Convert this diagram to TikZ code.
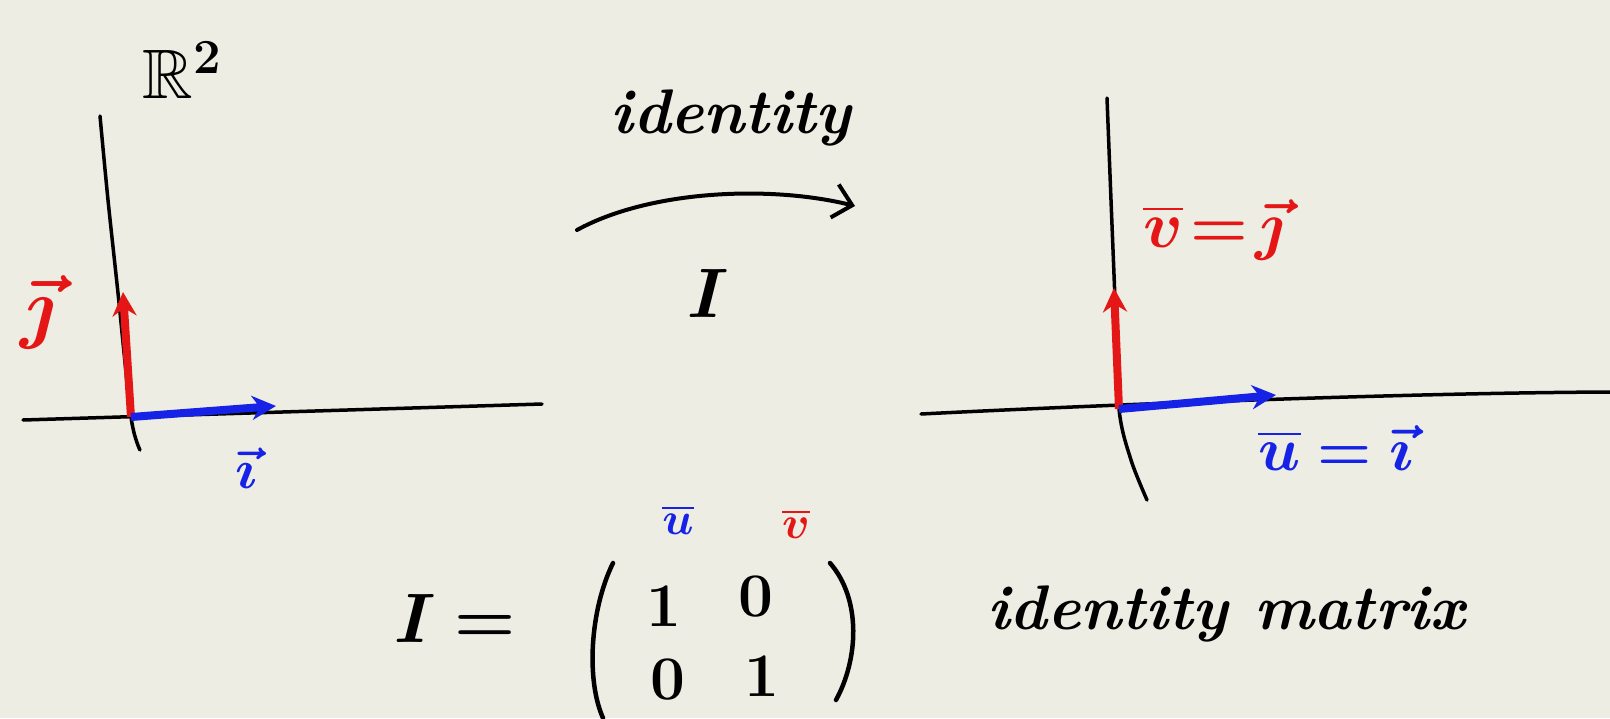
\RequirePackage{fix-cm}
\documentclass[tikz,border=0pt]{standalone}
\usepackage{amsmath,amssymb,bm}
\usetikzlibrary{arrows.meta}
\definecolor{paper}{RGB}{237,237,227}
\definecolor{pred}{RGB}{228,22,22}
\definecolor{pblue}{RGB}{22,34,230}
\tikzset{
  axis/.style={line width=3.5pt, black, line cap=round},
  vecred/.style={line width=8pt, pred, -{Stealth[length=24pt,width=24pt]}},
  vecblue/.style={line width=8pt, pblue, -{Stealth[length=24pt,width=24pt]}},
  maparrow/.style={line width=4pt, black, line cap=round, -{Straight Barb[length=18pt,width=34pt,line width=4pt]}},
  paren/.style={line width=4.5pt, black, line cap=round},
  lbl/.style={inner sep=0pt, font=\fontsize{56}{64}\selectfont\bfseries},
  big/.style={inner sep=0pt, font=\fontsize{70}{80}\selectfont\bfseries},
  word/.style={inner sep=0pt, font=\fontsize{63}{72}\selectfont\bfseries\itshape},
  entry/.style={inner sep=0pt, font=\fontsize{62}{70}\selectfont\bfseries}
}
\newcommand{\ob}[1]{\overline{\bm{#1}}}
\begin{document}
\begin{tikzpicture}[x=1pt,y=-1pt]
\fill[paper] (0,0) rectangle (1610,718);
\useasboundingbox (0,0) rectangle (1610,718);
% left axes
\coordinate (O1) at (131,417);
\coordinate (J1) at (123,292);
\coordinate (I1) at (276,406);
\draw[axis] plot[smooth] coordinates {(100,116) (108,200) (118,293) (131,417) (140,450)};
\draw[axis] (23,420) -- (542,404);
\draw[vecred] (O1) -- (J1);
\draw[vecblue] (O1) -- (I1);
\node[big] (R2) at (182,70) {$\mathbb{R}^{\bm 2}$};
\node[inner sep=0pt, font=\fontsize{80}{90}\selectfont, text=pred] (jl) at (38,312) {$\bm{\vec{\jmath}}$};
\node[lbl, text=pblue] (il) at (246,468) {$\bm{\vec{\imath}}$};
% middle map
\node[word] (idt) at (731,118) {identity};
\coordinate (A0) at (577,230);
\coordinate (A1) at (855,206);
\draw[maparrow] (A0) .. controls (650,190) and (770,185) .. (A1);
\node[big] (Imap) at (708,293) {$\bm{I}$};
% right axes
\coordinate (O2) at (1119,409);
\coordinate (J2) at (1114,288);
\coordinate (I2) at (1276,395);
\draw[axis] plot[smooth] coordinates {(1107,98) (1111,200) (1115,300) (1119,409) (1131,460) (1147,500)};
\draw[axis] (921,414) .. controls (1100,405) and (1400,393) .. (1610,392);
\draw[vecred] (O2) -- (J2);
\draw[vecblue] (O2) -- (I2);
\node[inner sep=0pt, font=\fontsize{66}{74}\selectfont, text=pred] (vj) at (1214,230) {$\ob{v}\!\bm{=}\!\bm{\vec{\jmath}}$};
\node[inner sep=0pt, font=\fontsize{62}{70}\selectfont, text=pblue] (ui) at (1336,448) {$\ob{u}\bm{=}\bm{\vec{\imath}}$};
% matrix
\node[inner sep=0pt, font=\fontsize{46}{50}\selectfont, text=pblue] (ub) at (678,520) {$\ob{u}$};
\node[inner sep=0pt, font=\fontsize{46}{50}\selectfont, text=pred] (vb) at (796,524) {$\ob{v}$};
\node[big] (Ieq) at (455,618) {$\bm{I}\bm{=}$};
\coordinate (PL0) at (613,563);
\coordinate (PL1) at (603,718);
\coordinate (PR0) at (830,563);
\coordinate (PR1) at (836,700);
\draw[paren] (PL0) .. controls (590,610) and (586,680) .. (PL1);
\draw[paren] (PR0) .. controls (862,600) and (858,660) .. (PR1);
\node[entry] (m11) at (664,606) {1};
\node[entry] (m12) at (756,597) {0};
\node[entry] (m21) at (668,680) {0};
\node[entry] (m22) at (762,676) {1};
\node[word] (idm) at (1226,614) {identity matrix};
\end{tikzpicture}
\end{document}
